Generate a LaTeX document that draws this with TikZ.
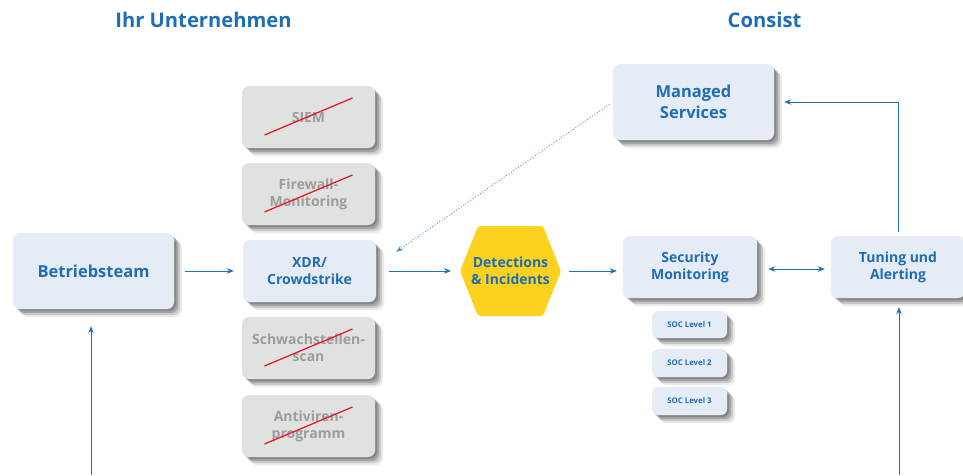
\documentclass[tikz,border=0pt]{standalone}
\usepackage{fontspec}
\setmainfont{Open Sans}
\usetikzlibrary{arrows.meta,shadows,calc}
\definecolor{boxfill}{HTML}{E5ECF6}
\definecolor{txtblue}{HTML}{1F6DB5}
\definecolor{arrblue}{HTML}{2070B8}
\definecolor{grayfill}{HTML}{E0E1E1}
\definecolor{graytxt}{HTML}{9C9C9C}
\definecolor{strike}{HTML}{E3202A}
\definecolor{hexfill}{HTML}{FCD21F}
\tikzset{
  softshadow/.style={
    general shadow={fill=black, opacity=.18, shadow xshift=2pt, shadow yshift=-2pt},
    general shadow={fill=black, opacity=.18, shadow xshift=4pt, shadow yshift=-4pt},
    general shadow={fill=black, opacity=.14, shadow xshift=6pt, shadow yshift=-6pt},
    general shadow={fill=black, opacity=.08, shadow xshift=8pt, shadow yshift=-8pt}},
  bluebox/.style={rounded corners=7pt, fill=boxfill, text=txtblue, softshadow,
    font=\bfseries\fontsize{14}{17}\selectfont, align=center, inner sep=0pt},
  bigbox/.style={bluebox, minimum width=161pt, minimum height=76pt,
    font=\bfseries\fontsize{16.5}{20.5}\selectfont},
  midbox/.style={bluebox, minimum width=133pt, minimum height=62pt},
  graybox/.style={midbox, fill=grayfill, text=graytxt},
  socbox/.style={bluebox, rounded corners=6pt, font=\bfseries\fontsize{7.8}{9}\selectfont,
    minimum width=75pt, minimum height=28pt},
  arr/.style={draw=arrblue, line width=0.9pt, -{Stealth[length=7pt,width=5.5pt]}},
  dotarr/.style={draw=arrblue!80, line width=0.9pt, dotted, -{Stealth[length=7pt,width=5.5pt]}},
  strikeline/.style={draw=strike, line width=1.3pt},
  title/.style={text=txtblue, font=\bfseries\fontsize{20.2}{24}\selectfont}
}
\begin{document}
\begin{tikzpicture}[x=1pt,y=-1pt]
\useasboundingbox (0,0) rectangle (963,475);

\node[title] (t1) at (203.5,20) {Ihr Unternehmen};
\node[title] (t2) at (764.5,20) {Consist};

\node[bigbox] (bet) at (93.5,271) {Betriebsteam};

\node[graybox] (siem) at (308.5,117) {SIEM};
\node[graybox] (fw) at (308.5,194) {Firewall-\\Monitoring};
\node[midbox] (xdr) at (309.5,271) {XDR/\\Crowdstrike};
\node[graybox] (schw) at (308.5,348) {Schwachstellen-\\scan};
\node[graybox] (anti) at (308.5,426) {Antiviren-\\programm};

\foreach \n in {siem,fw,schw,anti}
  \draw[strikeline] ($(\n.center)+(-44,18)$) -- ($(\n.center)+(44,-19)$);

\fill[hexfill, rounded corners=2pt] (460,271) -- (478,226) -- (543,226) -- (561,271) -- (543,316) -- (478,316) -- cycle;
\node[text=txtblue, font=\bfseries\fontsize{14}{17}\selectfont, align=center] (hex) at (510.5,271) {Detections\\\& Incidents};
\coordinate (hexW) at (460,271);
\coordinate (hexE) at (561,271);

\node[bigbox] (ms) at (693.5,102) {Managed\\Services};
\node[midbox, minimum width=134pt] (sm) at (690,267) {Security\\Monitoring};
\node[midbox, minimum width=134pt] (tu) at (898,267) {Tuning und\\Alerting};

\node[socbox, minimum height=27pt] (soc1) at (689.5,324.5) {SOC Level 1};
\node[socbox] (soc2) at (689.5,363) {SOC Level 2};
\node[socbox] (soc3) at (689.5,401) {SOC Level 3};

\coordinate (betin) at (91,475);
\coordinate (tuin) at (899,475);

\draw[arr, shorten <=11pt, shorten >=9pt] (bet.east) -- (xdr.west);
\draw[arr] (betin) -- ($(betin |- bet.south)+(0,17)$);
\draw[arr, shorten <=13pt, shorten >=9pt] (xdr.east) -- (hexW);
\draw[arr, shorten <=8pt, shorten >=6pt] (hexE) -- (hexE -| sm.west);
\draw[draw=arrblue, line width=0.9pt, {Stealth[length=7pt,width=5.5pt]}-{Stealth[length=7pt,width=5.5pt]}, shorten <=11pt, shorten >=6pt] ([yshift=-2pt]sm.east) -- ([yshift=-2pt]tu.west);
\draw[arr, shorten <=4pt, shorten >=10pt] (tu.north) |- (ms.east);
\draw[arr] (tuin) -- ($(tuin |- tu.south)+(0,9)$);
\draw[dotarr, shorten <=4pt] (ms.west) -- ([shift={(20pt,-12pt)}]xdr.north east);
\end{tikzpicture}
\end{document}
